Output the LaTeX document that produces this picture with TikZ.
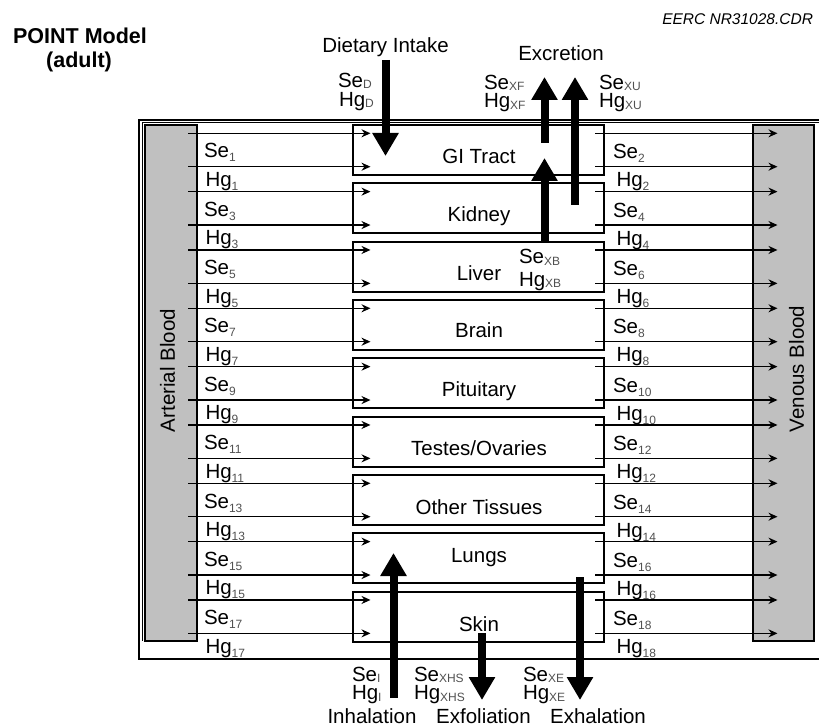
\documentclass[tikz,border=0pt]{standalone}
\usepackage{fontspec}
\setmainfont{Liberation Sans}
\usetikzlibrary{arrows.meta}
\definecolor{bloodgray}{RGB}{192,192,192}
\definecolor{subgray}{RGB}{80,80,80}
\newcommand\sbn[1]{\raisebox{-4pt}{\fontsize{12}{12}\selectfont\color{subgray}#1}}
\newcommand\sbl[1]{\raisebox{-1.5pt}{\fontsize{12}{12}\selectfont\color{subgray}#1}}
\begin{document}
\begin{tikzpicture}[x=1pt,y=-1pt,
  every node/.style={inner sep=0pt,outer sep=0pt,font=\fontsize{20.5}{24}\selectfont},
  organ/.style={draw,line width=2pt,minimum width=251pt,minimum height=50pt,anchor=north west},
  blood/.style={draw,line width=2pt,fill=bloodgray,anchor=north west},
  flow/.style={line width=1.5pt,-{Stealth[length=9pt,width=8pt]}},
  bigarrow/.style={line width=8pt,-{Triangle[length=23pt,width=25pt]}},
  lbl/.style={anchor=base west},
  frame/.style={line width=1.3pt}
]
\useasboundingbox (0,0) rectangle (819,727);

% outer frame
\draw[frame] (819,120) -- (139,120) -- (139,659) -- (819,659);
\draw[frame] (819,122.8) -- (142.3,122.8) -- (142.3,641);

% blood compartments
\node[blood,minimum width=52pt,minimum height=516pt] (art) at (145,125) {};
\node[blood,minimum width=61pt,minimum height=516pt] (ven) at (752.5,125) {};
\node[rotate=90,text height=14.7pt,text depth=0pt] (artl) at (167.5,370.5) {Arterial Blood};
\node[rotate=90,text height=14.7pt,text depth=0pt] (venl) at (796.5,369) {Venous Blood};

% organs
\foreach \i/\txt/\b [evaluate=\i as \T using 125+58.333*\i] in
  {0/GI Tract/38.5,1/Kidney/38.5,2/Liver/38.5,3/Brain/37.5,4/Pituitary/38,
   5/Testes\slash Ovaries/38.5,6/Other Tissues/39,7/Lungs/29.5,8/Skin/39.5}{
  \pgfmathtruncatemacro\odd{2*\i+1}
  \pgfmathtruncatemacro\even{2*\i+2}
  \node[organ] (o\i) at (353,\T) {};
  \node[anchor=base] (t\i) at (479,{\T+\b}) {\txt};
  \coordinate (las\i) at (188,{\T+8.3});
  \coordinate (lae\i) at (370.5,{\T+8.3});
  \coordinate (lbs\i) at (188,{\T+41.7});
  \coordinate (lbe\i) at (370.5,{\T+41.7});
  \coordinate (ras\i) at (595,{\T+8.3});
  \coordinate (rae\i) at (777.5,{\T+8.3});
  \coordinate (rbs\i) at (595,{\T+41.7});
  \coordinate (rbe\i) at (777.5,{\T+41.7});
  \draw[flow] (las\i) -- (lae\i);
  \draw[flow] (lbs\i) -- (lbe\i);
  \draw[flow] (ras\i) -- (rae\i);
  \draw[flow] (rbs\i) -- (rbe\i);
  \node[lbl] (lse\i) at (204,{\T+33}) {Se\sbn{\odd}};
  \node[lbl] (lhg\i) at (205.5,{\T+61.5}) {Hg\sbn{\odd}};
  \node[lbl] (rse\i) at (613,{\T+34}) {Se\sbn{\even}};
  \node[lbl] (rhg\i) at (616.5,{\T+62}) {Hg\sbn{\even}};
}

% big arrows
\coordinate (dietS) at (385.5,60);   \coordinate (dietE) at (385.5,156);
\coordinate (xfS) at (544.5,143);    \coordinate (xfE) at (544.5,77);
\coordinate (xuS) at (575,205);      \coordinate (xuE) at (575,77);
\coordinate (xbS) at (544.5,242);    \coordinate (xbE) at (544.5,158);
\coordinate (inS) at (393.5,698);    \coordinate (inE) at (393.5,553);
\coordinate (xhsS) at (482,633);     \coordinate (xhsE) at (482,700);
\coordinate (xeS) at (580,577);      \coordinate (xeE) at (580,700);
\draw[bigarrow] (dietS) -- (dietE);
\draw[bigarrow] (xfS) -- (xfE);
\draw[bigarrow] (xuS) -- (xuE);
\draw[bigarrow] (xbS) -- (xbE);
\draw[bigarrow] (inS) -- (inE);
\draw[bigarrow] (xhsS) -- (xhsE);
\draw[bigarrow] (xeS) -- (xeE);

% flow labels
\node[lbl] (sed) at (338,87.5) {Se\sbl{D}};
\node[lbl] (hgd) at (339,106.5) {Hg\sbl{D}};
\node[lbl] (sexf) at (484,89.5) {Se\sbl{XF}};
\node[lbl] (hgxf) at (484,108) {Hg\sbl{XF}};
\node[lbl] (sexu) at (599,89.5) {Se\sbl{XU}};
\node[lbl] (hgxu) at (599,108) {Hg\sbl{XU}};
\node[lbl] (sexb) at (519,264) {Se\sbl{XB}};
\node[lbl] (hgxb) at (519,286.5) {Hg\sbl{XB}};
\node[lbl] (sei) at (352,681) {Se\sbl{I}};
\node[lbl] (hgi) at (352,699.5) {Hg\sbl{I}};
\node[lbl] (sexhs) at (414,681) {Se\sbl{XHS}};
\node[lbl] (hgxhs) at (414,699.5) {Hg\sbl{XHS}};
\node[lbl] (sexe) at (523,681) {Se\sbl{XE}};
\node[lbl] (hgxe) at (523,699.5) {Hg\sbl{XE}};

\node[anchor=base] (diet) at (385.5,52.5) {Dietary Intake};
\node[anchor=base] (excr) at (561,60.5) {Excretion};
\node[anchor=base] (inh) at (372,723) {Inhalation};
\node[anchor=base] (exf) at (483.5,723) {Exfoliation};
\node[anchor=base] (exh) at (598,723) {Exhalation};

% title and tag
\node[anchor=base,font=\fontsize{21.5}{24}\selectfont\bfseries] (title) at (80,43.3) {POINT Model};
\node[anchor=base,font=\fontsize{21.5}{24}\selectfont\bfseries] (title2) at (79,68) {(adult)};
\node[anchor=base east,font=\fontsize{15.5}{18}\selectfont\itshape] (tag) at (813,25) {EERC NR31028.CDR};
\end{tikzpicture}
\end{document}
